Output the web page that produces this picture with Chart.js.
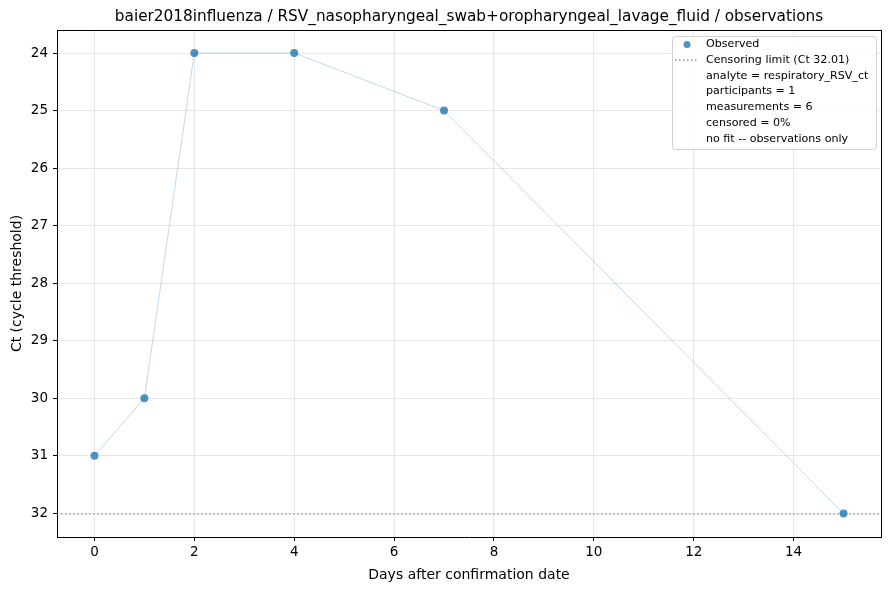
<!DOCTYPE html>
<html><head><meta charset="utf-8">
<script src="https://cdn.jsdelivr.net/npm/chart.js@4.4.0/dist/chart.umd.min.js"></script>
<style>html,body{margin:0;padding:0;background:#fff}#wrap{width:889px;height:590px}</style>
</head><body><div id="wrap"><canvas id="c" width="889" height="590"></canvas></div>
<script>
const days = [0, 1, 2, 4, 7, 15];
const ctValues = [31, 30, 24, 24, 25, 32];
const censorLimit = 32.01;
const xTicks = [0, 2, 4, 6, 8, 10, 12, 14];
const yTicks = [24, 25, 26, 27, 28, 29, 30, 31, 32];
const titleText = 'baier2018influenza / RSV_nasopharyngeal_swab+oropharyngeal_lavage_fluid / observations';
const legendLines = ['Observed', 'Censoring limit (Ct 32.01)', 'analyte = respiratory_RSV_ct', 'participants = 1', 'measurements = 6', 'censored = 0%', 'no fit -- observations only'];
const FONT = '"DejaVu Sans", sans-serif';

const pts = days.map((d, i) => ({x: d, y: ctValues[i]}));

const decor = {
  id: 'decor',
  afterDraw(chart) {
    const {ctx, chartArea: a} = chart;
    ctx.save();
    ctx.strokeStyle = '#000'; ctx.lineWidth = 1;
    ctx.beginPath();
    ctx.moveTo(a.left, a.top + 0.5); ctx.lineTo(a.right + 0.5, a.top + 0.5);
    ctx.moveTo(a.right + 0.5, a.top); ctx.lineTo(a.right + 0.5, a.bottom);
    ctx.stroke();
    // title
    ctx.fillStyle = '#000';
    ctx.font = '15.3px ' + FONT;
    ctx.textAlign = 'center'; ctx.textBaseline = 'middle';
    ctx.fillText(titleText, (a.left + a.right) / 2, 17);
    // legend
    const lx = 672, ly = 36, lw = 204, lh = 113;
    ctx.fillStyle = 'rgba(255,255,255,0.85)';
    ctx.strokeStyle = '#d0d0d0';
    ctx.beginPath();
    ctx.roundRect(lx + 0.5, ly + 0.5, lw, lh, 3);
    ctx.fill(); ctx.stroke();
    ctx.font = '11.1px ' + FONT;
    ctx.textAlign = 'left'; ctx.textBaseline = 'middle';
    legendLines.forEach((t, i) => {
      const y = 44.5 + i * 15.7;
      if (i === 0) {
        ctx.fillStyle = 'rgba(31,119,180,0.8)';
        ctx.beginPath(); ctx.arc(687, y, 3.5, 0, Math.PI * 2); ctx.fill();
      } else if (i === 1) {
        ctx.strokeStyle = 'gray'; ctx.lineWidth = 1.2; ctx.setLineDash([1.5, 2.5]);
        ctx.beginPath(); ctx.moveTo(675, y); ctx.lineTo(699, y); ctx.stroke();
        ctx.setLineDash([]);
      }
      ctx.fillStyle = '#000';
      ctx.fillText(t, 706, y);
    });
    ctx.restore();
  }
};

new Chart(document.getElementById('c'), {
  type: 'scatter',
  data: {
    datasets: [
      {
        label: 'Observed',
        data: pts,
        showLine: true,
        borderColor: 'rgba(31,119,180,0.28)',
        borderWidth: 1,
        pointRadius: 4,
        pointBackgroundColor: 'rgba(31,119,180,0.8)',
        pointBorderColor: 'rgba(31,119,180,0.8)',
        pointBorderWidth: 0,
        order: 1
      },
      {
        label: 'Censoring limit (Ct 32.01)',
        data: [{x: -0.75, y: censorLimit}, {x: 15.75, y: censorLimit}],
        showLine: true,
        borderColor: 'gray',
        borderWidth: 1.2,
        borderDash: [1.5, 2.5],
        pointRadius: 0,
        order: 2
      }
    ]
  },
  options: {
    responsive: false,
    animation: false,
    devicePixelRatio: 1,
    layout: {padding: {top: 30, right: 8, left: 0, bottom: 0}},
    plugins: {legend: {display: false}, title: {display: false}, tooltip: {enabled: false}},
    scales: {
      x: {
        type: 'linear', min: -0.75, max: 15.75,
        afterBuildTicks: s => { s.ticks = xTicks.map(v => ({value: v})); },
        afterFit: s => { s.height = 53; },
        grid: {color: 'rgba(176,176,176,0.3)', tickColor: '#000', tickLength: 4, drawTicks: true},
        border: {color: '#000', width: 1},
        ticks: {color: '#000', font: {family: FONT, size: 13.5}, padding: 3, maxRotation: 0},
        title: {display: true, text: 'Days after confirmation date', color: '#000', font: {family: FONT, size: 14}, padding: {top: 4, bottom: 6}}
      },
      y: {
        type: 'linear', reverse: true, min: 23.6, max: 32.41,
        afterBuildTicks: s => { s.ticks = yTicks.map(v => ({value: v})); },
        afterFit: s => { s.width = 57; },
        grid: {color: 'rgba(176,176,176,0.3)', tickColor: '#000', tickLength: 4, drawTicks: true},
        border: {color: '#000', width: 1},
        ticks: {color: '#000', font: {family: FONT, size: 13.5}, padding: 5},
        title: {display: true, text: 'Ct (cycle threshold)', color: '#000', font: {family: FONT, size: 14}, padding: {top: 9, bottom: 4}}
      }
    }
  },
  plugins: [decor]
});
</script></body></html>
